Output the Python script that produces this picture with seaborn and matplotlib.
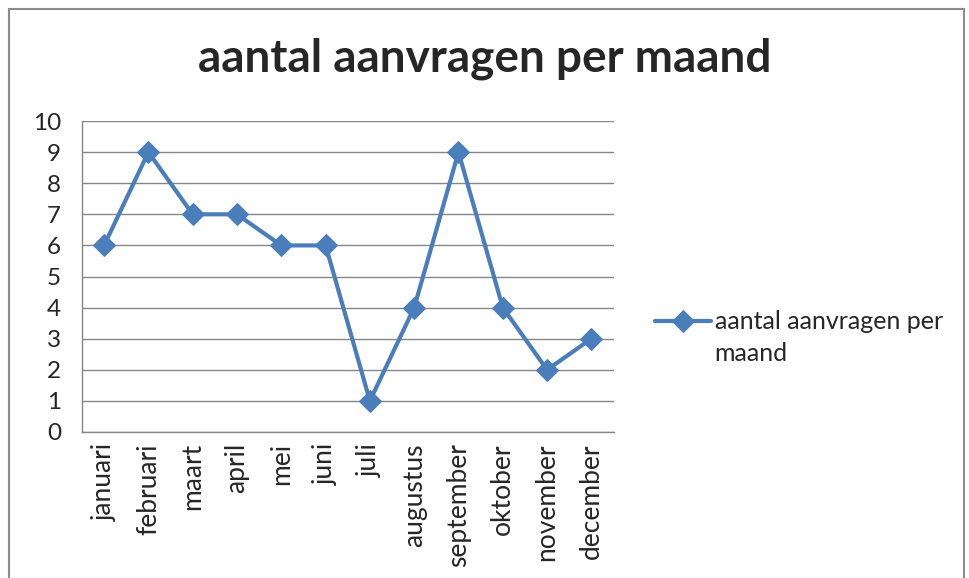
import matplotlib
matplotlib.use("Agg")

import pandas as pd
import matplotlib.pyplot as plt
import matplotlib.patches as mpatches
import seaborn as sns

# ===============================
# data
# ===============================
maanden = ["januari", "februari", "maart", "april", "mei", "juni",
           "juli", "augustus", "september", "oktober", "november", "december"]
aanvragen = [6, 9, 7, 7, 6, 6, 1, 4, 9, 4, 2, 3]
reeks = "aantal aanvragen per maand"

df = pd.DataFrame({"maand": maanden, "aantal": aanvragen})
df["pos"] = range(len(maanden))

sns.set_style("white")
plt.rcParams["font.family"] = ["Lato", "DejaVu Sans"]

fig = plt.figure(figsize=(9.7, 5.78), dpi=100)
ax = fig.add_axes([0.0845, 0.2526, 0.548, 0.538])

blauw = "#4A7EBB"
sns.lineplot(
    data=df, x="pos", y="aantal", ax=ax,
    color=blauw, linewidth=3,
    marker="D", markersize=11, markeredgecolor=blauw,
    label="aantal aanvragen per",
)

# ===============================
# assen in Excel-stijl
# ===============================
ax.set_xlim(-0.5, len(maanden) - 0.5)
ax.set_ylim(0, 10)
ax.set_yticks(range(0, 11))
ax.set_xticks(df["pos"])
ax.set_xticklabels(maanden, rotation=90, fontsize=19)
ax.set_xticks([i - 0.5 for i in range(len(maanden) + 1)], minor=True)
ax.tick_params(axis="x", which="major", length=0, pad=8)
ax.tick_params(axis="x", which="minor", length=7, color="#868686", width=1)
ax.tick_params(axis="y", length=7, color="#868686", width=1, labelsize=17.5, pad=8)
ax.set_xlabel("")
ax.set_ylabel("")

ax.grid(axis="y", color="#868686", linewidth=1)
ax.set_axisbelow(True)
for s in ["top", "right"]:
    ax.spines[s].set_visible(False)
for s in ["left", "bottom"]:
    ax.spines[s].set_color("#868686")
    ax.spines[s].set_linewidth(1)

fig.suptitle(reeks, x=0.5, y=0.935, fontsize=33, fontweight="bold")

leg = ax.legend(
    loc="center left", bbox_to_anchor=(0.675, 0.443),
    bbox_transform=fig.transFigure, frameon=False,
    fontsize=18, handlelength=2.25, handletextpad=0.15,
    borderpad=0, borderaxespad=0,
)

# tweede regel van het legendalabel, zoals Excel het afbreekt
fig.canvas.draw()
t = leg.get_texts()[0]
bb = t.get_window_extent().transformed(fig.transFigure.inverted())
fig.text(bb.x0, bb.y0 - 0.055, "maand", fontsize=18, ha="left", va="bottom",
         color=t.get_color())

# rand van het grafiekgebied
fig.patches.append(mpatches.Rectangle(
    (0.0093, -0.05), 0.985, 1.034, transform=fig.transFigure,
    fill=False, edgecolor="#8c8c8c", linewidth=1.5))

plt.savefig("out.png", dpi=100)
plt.close()
